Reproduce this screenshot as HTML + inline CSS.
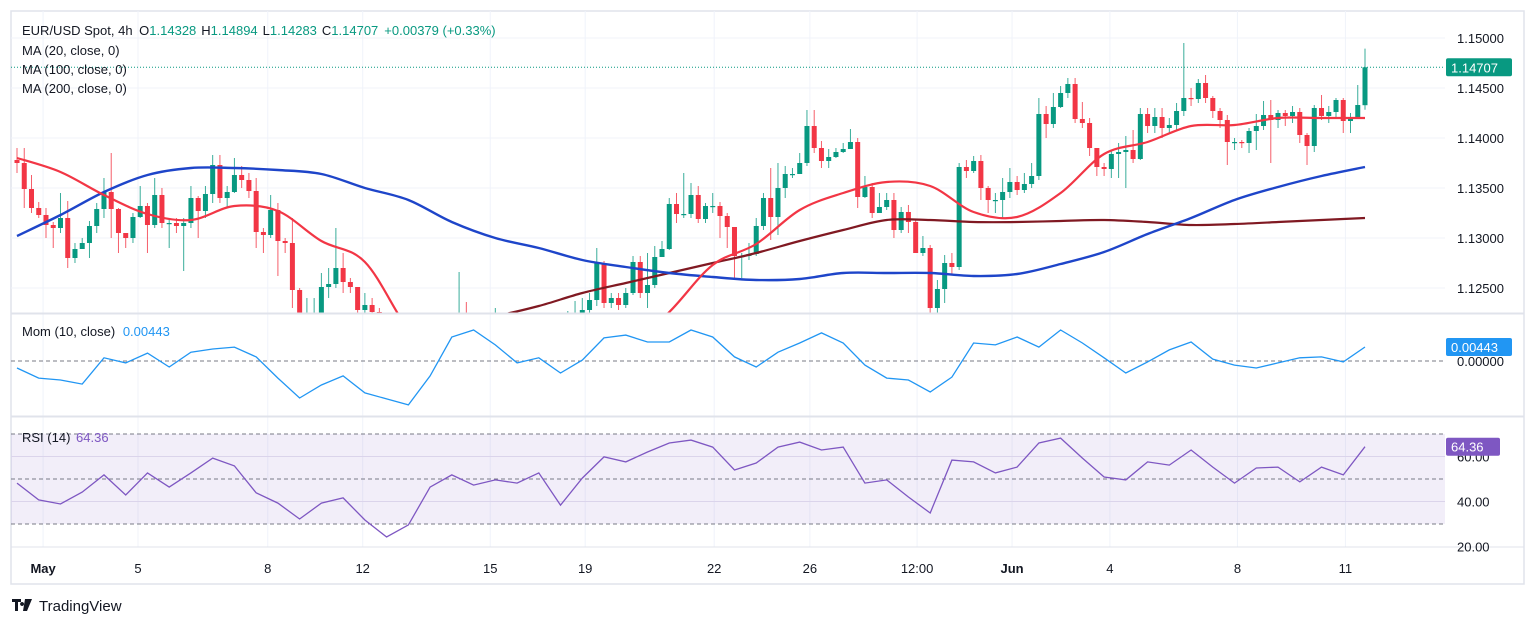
<!DOCTYPE html>
<html><head><meta charset="utf-8"><style>
html,body{margin:0;padding:0;background:#fff;width:1536px;height:625px;overflow:hidden}
svg text{font-family:"Liberation Sans",sans-serif}
</style></head><body>
<svg id="chart" width="1536" height="625" xmlns="http://www.w3.org/2000/svg">
<defs>
<clipPath id="cMain"><rect x="11" y="11" width="1434" height="302"/></clipPath>
<clipPath id="cMom"><rect x="11" y="314" width="1434" height="102"/></clipPath>
<clipPath id="cRsi"><rect x="11" y="417" width="1434" height="130"/></clipPath>
</defs>
<rect x="11" y="11" width="1513" height="573" fill="#fff" stroke="#e0e3eb" stroke-width="1.5"/>
<g id="grid"></g>
<rect x="11" y="434" width="1434" height="90" fill="#7e57c2" fill-opacity="0.1"/>
<g id="main" clip-path="url(#cMain)"></g>
<g id="mom" clip-path="url(#cMom)"></g>
<g id="rsi" clip-path="url(#cRsi)"></g>
<line x1="11" y1="313.5" x2="1524" y2="313.5" stroke="#e0e3eb" stroke-width="2"/>
<line x1="11" y1="416.5" x2="1524" y2="416.5" stroke="#e0e3eb" stroke-width="2"/>
<line x1="11" y1="547" x2="1524" y2="547" stroke="#e0e3eb" stroke-width="1"/>
<g id="axes"></g>
<g font-size="13" fill="#131722">
<text x="22" y="35">EUR/USD Spot, 4h <tspan dx="3">O</tspan><tspan fill="#089981">1.14328</tspan><tspan dx="5">H</tspan><tspan fill="#089981">1.14894</tspan><tspan dx="5">L</tspan><tspan fill="#089981">1.14283</tspan><tspan dx="5">C</tspan><tspan fill="#089981">1.14707</tspan><tspan dx="6" fill="#089981">+0.00379 (+0.33%)</tspan></text>
<text x="22" y="55">MA (20, close, 0)</text>
<text x="22" y="74">MA (100, close, 0)</text>
<text x="22" y="93">MA (200, close, 0)</text>
<text x="22" y="336">Mom (10, close) <tspan dx="4" fill="#2196f3">0.00443</tspan></text>
<text x="22" y="442">RSI (14) <tspan dx="2" fill="#7e57c2">64.36</tspan></text>
</g>
<g>
<path d="M12 599h9v3h-3v9h-3v-9h-3z M22 602a2 2 0 1 0 0.1 0z M25 599h7l-5 12h-4z" fill="#131722"/>
<text x="39" y="611" font-size="15" fill="#131722">TradingView</text>
</g>
</svg>
<script>
const closes=[1.1375,1.1349,1.1330,1.1323,1.1313,1.1310,1.1320,1.1280,1.1289,1.1295,1.1312,1.1329,1.1346,1.1329,1.1305,1.1300,1.1321,1.1332,1.1313,1.1343,1.1315,1.1315,1.1312,1.1315,1.1340,1.1327,1.1344,1.1373,1.1340,1.1346,1.1363,1.1358,1.1347,1.1306,1.1303,1.1328,1.1297,1.1295,1.1248,1.1218,1.1220,1.1222,1.1251,1.1254,1.1270,1.1256,1.1251,1.1228,1.1233,1.1226,1.1200,
1.1170,1.1130,1.1100,1.1080,1.1100,1.1090,1.1120,1.1150,1.1180,1.1200,1.1220,1.1200,1.1180,1.1170,1.1190,1.1200,1.1180,1.1170,1.1160,1.1175,1.1190,1.1180,1.1170,1.1185,1.1200,1.1215,1.1225,1.1228,
1.1238,1.1275,1.1235,1.1240,1.1233,1.1245,1.1276,1.1245,1.1253,1.1281,1.1289,1.1334,1.1324,1.1324,1.1343,1.1319,1.1332,1.1332,1.1322,1.1311,1.1282,1.1282,1.1284,1.1312,1.1340,1.1321,1.1350,1.1364,1.1364,1.1375,1.1412,1.1390,1.1377,1.1381,1.1386,1.1389,1.1396,1.1341,1.1351,1.1325,
1.1331,1.1338,1.1308,1.1326,1.1316,1.1285,1.1290,1.1230,1.1249,1.1275,1.1271,1.1371,1.1367,1.1377,1.1350,1.1338,1.1338,1.1346,1.1356,1.1348,1.1354,1.1362,1.1424,1.1414,1.1431,1.1445,1.1454,1.1419,1.1415,1.1390,1.1371,1.1369,1.1384,1.1386,1.1388,1.1379,1.1424,1.1412,1.1421,1.1410,1.1413,1.1427,1.1440,1.1439,1.1455,1.1440,1.1427,1.1418,1.1396,1.1396,1.1395,1.1407,1.1412,1.1423,1.1418,1.1425,1.1422,1.1426,1.1403,1.1392,1.1430,1.1422,1.1426,1.1438,1.1417,1.1420,1.1433,1.14707];
const highs=[1.1390,1.1390,1.1363,1.1336,1.1330,1.1316,1.1345,1.1337,1.1295,1.1300,1.1317,1.1335,1.1360,1.1385,1.1330,1.1305,1.1325,1.1352,1.1335,1.1360,1.1350,1.1320,1.1320,1.1320,1.1352,1.1342,1.1352,1.1383,1.1383,1.1352,1.1380,1.1372,1.1365,1.1360,1.1310,1.1343,1.1335,1.1300,1.1320,1.1250,1.1240,1.1240,1.1265,1.1270,1.1310,1.1285,1.1260,1.1240,1.1245,1.1240,1.1230,
1.1200,1.1175,1.1140,1.1110,1.1112,1.1110,1.1132,1.1162,1.1192,1.1212,1.1266,1.1236,1.1200,1.1185,1.1202,1.1230,1.1205,1.1190,1.1180,1.1187,1.1202,1.1200,1.1190,1.1197,1.1212,1.1227,1.1237,1.1240,
1.1245,1.1290,1.1277,1.1245,1.1245,1.1250,1.1282,1.1282,1.1285,1.1292,1.1297,1.1340,1.1345,1.1365,1.1355,1.1352,1.1335,1.1345,1.1336,1.1325,1.1300,1.1285,1.1295,1.1320,1.1345,1.1370,1.1375,1.1372,1.1370,1.1385,1.1428,1.1428,1.1397,1.1389,1.1390,1.1395,1.1409,1.1400,1.1362,1.1355,
1.1345,1.1345,1.1345,1.1331,1.1333,1.1318,1.1302,1.1293,1.1258,1.1283,1.1285,1.1375,1.1378,1.1382,1.1383,1.1352,1.1345,1.1360,1.1370,1.1362,1.1365,1.1375,1.1440,1.1432,1.1445,1.1452,1.1460,1.1460,1.1436,1.1420,1.1385,1.1375,1.1388,1.1395,1.1402,1.1408,1.1430,1.1430,1.1430,1.1430,1.1420,1.1435,1.1495,1.1450,1.1459,1.1463,1.1442,1.1430,1.1423,1.1400,1.1398,1.1410,1.1424,1.1437,1.1438,1.1428,1.1428,1.1432,1.1430,1.1405,1.1433,1.1443,1.1432,1.1440,1.1440,1.1425,1.1453,1.14894];
const lows=[1.1365,1.1330,1.1325,1.1320,1.1300,1.1290,1.1305,1.1270,1.1275,1.1290,1.1280,1.1305,1.1320,1.1300,1.1285,1.1290,1.1295,1.1320,1.1285,1.1310,1.1310,1.1290,1.1305,1.1267,1.1310,1.1300,1.1320,1.1335,1.1335,1.1330,1.1345,1.1350,1.1340,1.1290,1.1285,1.1300,1.1262,1.1285,1.1230,1.1200,1.1200,1.1205,1.1215,1.1240,1.1250,1.1245,1.1245,1.1210,1.1215,1.1200,1.1180,
1.1150,1.1110,1.1080,1.1065,1.1075,1.1075,1.1085,1.1115,1.1145,1.1170,1.1190,1.1185,1.1165,1.1155,1.1160,1.1180,1.1165,1.1155,1.1145,1.1150,1.1170,1.1165,1.1155,1.1160,1.1180,1.1195,1.1205,1.1215,
1.1220,1.1232,1.1230,1.1230,1.1228,1.1230,1.1243,1.1240,1.1230,1.1250,1.1285,1.1288,1.1315,1.1320,1.1320,1.1315,1.1315,1.1325,1.1300,1.1290,1.1260,1.1260,1.1278,1.1282,1.1308,1.1298,1.1303,1.1340,1.1360,1.1370,1.1372,1.1385,1.1370,1.1370,1.1380,1.1385,1.1390,1.1330,1.1340,1.1320,
1.1325,1.1328,1.1300,1.1305,1.1305,1.1285,1.1282,1.1225,1.1225,1.1235,1.1263,1.1268,1.1360,1.1365,1.1338,1.1325,1.1325,1.1320,1.1340,1.1343,1.1345,1.1350,1.1358,1.1400,1.1410,1.1430,1.1440,1.1415,1.1410,1.1382,1.1362,1.1362,1.1360,1.1360,1.1350,1.1375,1.1378,1.1405,1.1405,1.1400,1.1405,1.1408,1.1422,1.1432,1.1435,1.1435,1.1420,1.1410,1.1373,1.1388,1.1390,1.1385,1.1388,1.1408,1.1375,1.1410,1.1412,1.1415,1.1395,1.1373,1.1386,1.1418,1.1415,1.1420,1.1405,1.1405,1.1425,1.14283];
const firstOpen=1.1378;
const lastOpen=1.14328;
const ma20=[1.1380,1.1366,1.1343,1.1324,1.1318,1.1332,1.1327,1.1297,1.1276,1.1208,1.1158,1.1138,1.1143,1.1158,1.1188,1.1226,1.1273,1.1294,1.1328,1.1345,1.1356,1.1352,1.1326,1.1321,1.1345,1.1384,1.1396,1.1412,1.1413,1.1420,1.1420,1.1420];
const ma100=[1.1302,1.1323,1.1346,1.1363,1.1370,1.1370,1.1368,1.1364,1.1350,1.1338,1.1316,1.1300,1.1290,1.1278,1.1271,1.1265,1.1261,1.1258,1.1259,1.1265,1.1265,1.1265,1.1262,1.1264,1.1274,1.1286,1.1304,1.1320,1.1338,1.1351,1.1362,1.1371];
const ma200=[1.1158,1.1163,1.1168,1.1173,1.1178,1.1183,1.1190,1.1196,1.1203,1.1210,1.1216,1.1222,1.1232,1.1245,1.1255,1.1265,1.1275,1.1285,1.1297,1.1308,1.1318,1.1318,1.1316,1.1316,1.1317,1.1318,1.1316,1.1313,1.1314,1.1316,1.1318,1.1320];
const momVals=[-0.0022,-0.0054,-0.0060,-0.0073,0.0010,-0.0006,0.0025,-0.0019,0.0028,0.0038,0.0044,0.0013,-0.0054,-0.0117,-0.0076,-0.0047,-0.0101,-0.0120,-0.0139,-0.0047,0.0076,0.0098,0.0051,-0.0006,0.0010,-0.0038,0.0003,0.0073,0.0082,0.0060,0.0060,0.0098,0.0076,0.0013,-0.0019,0.0028,0.0057,0.0089,0.0057,-0.0013,-0.0054,-0.0060,-0.0098,-0.0051,0.0057,0.0051,0.0076,0.0044,0.0098,0.0057,0.0010,-0.0038,-0.0003,0.0035,0.0060,0.0006,-0.0013,-0.0022,-0.0006,0.0010,0.0013,-0.0003,0.00443];
const rsiVals=[48.2,40.7,38.9,44.2,51.8,42.9,52.7,46.4,52.7,59.3,55.8,43.8,39.3,32.2,39.3,41.6,31.8,24.2,29.6,46.4,51.8,47.3,49.6,48.2,52.7,38.4,50.4,59.8,57.6,62.0,66.0,67.3,64.2,54.0,57.1,64.2,66.4,62.9,64.2,48.2,49.6,42.0,34.9,58.4,57.6,52.7,55.3,66.0,68.2,59.3,50.9,49.6,57.6,56.2,62.9,55.3,48.2,54.9,55.3,48.7,55.3,51.8,64.36];
const priceTicks=[1.15,1.145,1.14,1.135,1.13,1.125];
const rsiTicks=[60,40,20];
const timeLabels=["May","5","8","12","15","19","22","26","12:00","Jun","4","8","11"];
const timeLabelIdx=[3.6,16.7,34.6,47.7,65.3,78.4,96.2,109.4,124.2,137.3,150.8,168.4,183.3];

const NS="http://www.w3.org/2000/svg";
const N=closes.length;
const X0=17,X1=1365;
function xOf(i){return X0+i*(X1-X0)/(N-1);}
function yP(p){return 38+(1.15-p)*10000;}
function yM(v){return 361-v*3160;}
function yR(v){return 479-(v-50)*2.25;}
function mk(tag,attrs,parent){const e=document.createElementNS(NS,tag);for(const k in attrs)e.setAttribute(k,attrs[k]);parent.appendChild(e);return e;}
function smoothPath(pts){let d='M'+pts[0][0].toFixed(1)+','+pts[0][1].toFixed(1);
 for(let i=0;i<pts.length-1;i++){const p0=pts[Math.max(0,i-1)],p1=pts[i],p2=pts[i+1],p3=pts[Math.min(pts.length-1,i+2)];
  const c1=[p1[0]+(p2[0]-p0[0])/6,p1[1]+(p2[1]-p0[1])/6],c2=[p2[0]-(p3[0]-p1[0])/6,p2[1]-(p3[1]-p1[1])/6];
  d+=' C'+c1[0].toFixed(1)+','+c1[1].toFixed(1)+' '+c2[0].toFixed(1)+','+c2[1].toFixed(1)+' '+p2[0].toFixed(1)+','+p2[1].toFixed(1);}
 return d;}
const grid=document.getElementById('grid'),main=document.getElementById('main'),mom=document.getElementById('mom'),rsi=document.getElementById('rsi'),axes=document.getElementById('axes');

priceTicks.forEach(p=>{const l=mk('line',{x1:11,x2:1445,y1:yP(p),y2:yP(p),stroke:'#f0f3fa'},grid);

});
timeLabelIdx.forEach(i=>{const l=mk('line',{x1:xOf(i),x2:xOf(i),y1:11,y2:547,stroke:'#f0f3fa'},grid);

});
[60,40].forEach(v=>{const l=mk('line',{x1:11,x2:1445,y1:yR(v),y2:yR(v),stroke:'#e6e2f0'},grid);

});

for(let i=0;i<N;i++){
 const o=i===0?firstOpen:(i===N-1?lastOpen:closes[i-1]);const c=closes[i];
 const up=c>=o;const col=up?'#089981':'#f23645';const x=xOf(i);
 const g=mk('g',{},main);
 
 
 mk('line',{x1:x,x2:x,y1:yP(highs[i]),y2:yP(lows[i]),stroke:col,'stroke-width':1,'stroke-opacity':0.8},g);
 const t=Math.min(yP(o),yP(c)),h=Math.max(1.2,Math.abs(yP(o)-yP(c)));
 mk('rect',{x:x-2.5,y:t,width:5,height:h,fill:col},g);
}
function maLine(arr,col,w,name){
 const pts=arr.map((v,k)=>[xOf(k*(N-1)/(arr.length-1)),yP(v)]);
 const p=mk('path',{d:smoothPath(pts),fill:'none',stroke:col,'stroke-width':w,'stroke-linejoin':'round'},main);
 
 
}
maLine(ma200,'#801922',2.2,'ma200-line');
maLine(ma100,'#1e45c9',2.4,'ma100-line');
maLine(ma20,'#f23645',2.2,'ma20-line');
const cl=mk('line',{x1:11,x2:1445,y1:yP(closes[N-1]),y2:yP(closes[N-1]),stroke:'#089981','stroke-dasharray':'1 2'},main);



const z=mk('line',{x1:11,x2:1445,y1:yM(0),y2:yM(0),stroke:'#787b86','stroke-dasharray':'4 3'},mom);


const mp=mk('polyline',{points:momVals.map((v,k)=>xOf(k*(N-1)/(momVals.length-1)).toFixed(1)+','+yM(v).toFixed(1)).join(' '),fill:'none',stroke:'#2196f3','stroke-width':1.3},mom);



[70,50,30].forEach(v=>{const l=mk('line',{x1:11,x2:1445,y1:yR(v),y2:yR(v),stroke:'#787b86','stroke-dasharray':'4 3'},rsi);

});
const rp=mk('polyline',{points:rsiVals.map((v,k)=>xOf(k*(N-1)/(rsiVals.length-1)).toFixed(1)+','+yR(v).toFixed(1)).join(' '),fill:'none',stroke:'#7e57c2','stroke-width':1.3},rsi);



function txt(s,x,y,attrs,name){const t=mk('text',Object.assign({x:x,y:y,'font-size':13,fill:'#131722'},attrs||{}),axes);t.textContent=s;

return t;}
priceTicks.forEach(p=>txt(p.toFixed(5),1457,yP(p)+5,{},'price-tick'));
txt('0.00000',1457,yM(0)+5,{},'mom-tick');
rsiTicks.forEach(v=>txt(v.toFixed(2),1457,yR(v)+5,{},'rsi-tick'));
timeLabels.forEach((s,k)=>txt(s,xOf(timeLabelIdx[k]),573,{'text-anchor':'middle','font-weight':(s==='May'||s==='Jun')?'bold':'normal'},'time-tick'));
function badge(s,y,col,w,name){const r=mk('rect',{x:1446,y:y-9,width:w,height:18,rx:2,fill:col},axes);


txt(s,1451,y+5,{fill:'#fff'},name+'-text');}
badge(closes[N-1].toFixed(5),yP(closes[N-1]),'#089981',66,'last-price-badge');
badge(momVals[momVals.length-1].toFixed(5),yM(momVals[momVals.length-1]),'#2196f3',66,'mom-value-badge');
badge(rsiVals[rsiVals.length-1].toFixed(2),yR(rsiVals[rsiVals.length-1]),'#7e57c2',54,'rsi-value-badge');
</script>
</body></html>
